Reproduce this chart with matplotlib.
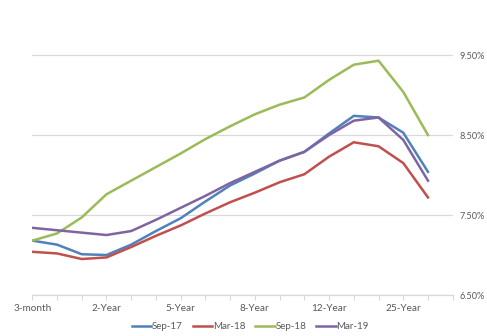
import numpy as np
import matplotlib.pyplot as plt

# tenors along the curve (last slot left empty on the axis)
tenors = ["3-month", "6-month", "1-Year", "2-Year", "3-Year", "4-Year", "5-Year",
          "6-Year", "7-Year", "8-Year", "9-Year", "10-Year", "12-Year", "15-Year",
          "20-Year", "25-Year", "30-Year", ""]

# yields in percent
sep17 = [7.18, 7.13, 7.01, 7.00, 7.13, 7.30, 7.46, 7.67, 7.87, 8.02, 8.18, 8.29,
         8.52, 8.74, 8.72, 8.53, 8.04, np.nan]
mar18 = [7.04, 7.02, 6.95, 6.97, 7.10, 7.24, 7.37, 7.52, 7.66, 7.78, 7.91, 8.01,
         8.23, 8.41, 8.36, 8.15, 7.72, np.nan]
sep18 = [7.18, 7.27, 7.47, 7.76, 7.93, 8.10, 8.27, 8.45, 8.61, 8.76, 8.88, 8.97,
         9.19, 9.38, 9.43, 9.04, 8.50, np.nan]
mar19 = [7.34, 7.31, 7.28, 7.25, 7.30, 7.44, 7.59, 7.74, 7.90, 8.04, 8.18, 8.29,
         8.50, 8.68, 8.72, 8.44, 7.93, np.nan]

series = [("Sep-17", sep17, "#4F81BD"),
          ("Mar-18", mar18, "#C0504D"),
          ("Sep-18", sep18, "#9BBB59"),
          ("Mar-19", mar19, "#8064A2")]

plt.rcParams["font.family"] = ["Lato", "DejaVu Sans"]
text_color = "#595959"

fig = plt.figure(figsize=(4.87, 3.36), dpi=100)
ax = fig.add_axes([0.0663, 0.122, 0.8633, 0.833])

x = np.arange(len(tenors))
for name, vals, color in series:
    ax.plot(x, vals, color=color, lw=1.8, label=name, solid_joinstyle="miter")

ax.set_xlim(0, len(tenors) - 1)
ax.set_ylim(6.5, 10.0)
ax.set_yticks([6.5, 7.5, 8.5, 9.5])
ax.set_yticklabels(["6.50%", "7.50%", "8.50%", "9.50%"])
ax.yaxis.tick_right()
ax.tick_params(axis="y", length=0, pad=5, labelsize=6.6, labelcolor=text_color)
ax.grid(axis="y", color="#D9D9D9", lw=0.9)
ax.set_axisbelow(True)

ax.set_xticks(x)
ax.set_xticklabels([t if i % 3 == 0 else "" for i, t in enumerate(tenors)])
ax.tick_params(axis="x", length=3.5, width=0.8, color="#D9D9D9", pad=3,
               labelsize=7.2, labelcolor=text_color)

for side in ["top", "left", "right"]:
    ax.spines[side].set_visible(False)
ax.spines["bottom"].set_color("#D9D9D9")
ax.spines["bottom"].set_linewidth(0.9)

fig.legend(loc="center", bbox_to_anchor=(0.514, 0.028), ncol=4, frameon=False,
           fontsize=7, labelcolor=text_color, handlelength=2.0,
           handletextpad=0.1, columnspacing=1.0)

fig.savefig("out.png", dpi=100)
